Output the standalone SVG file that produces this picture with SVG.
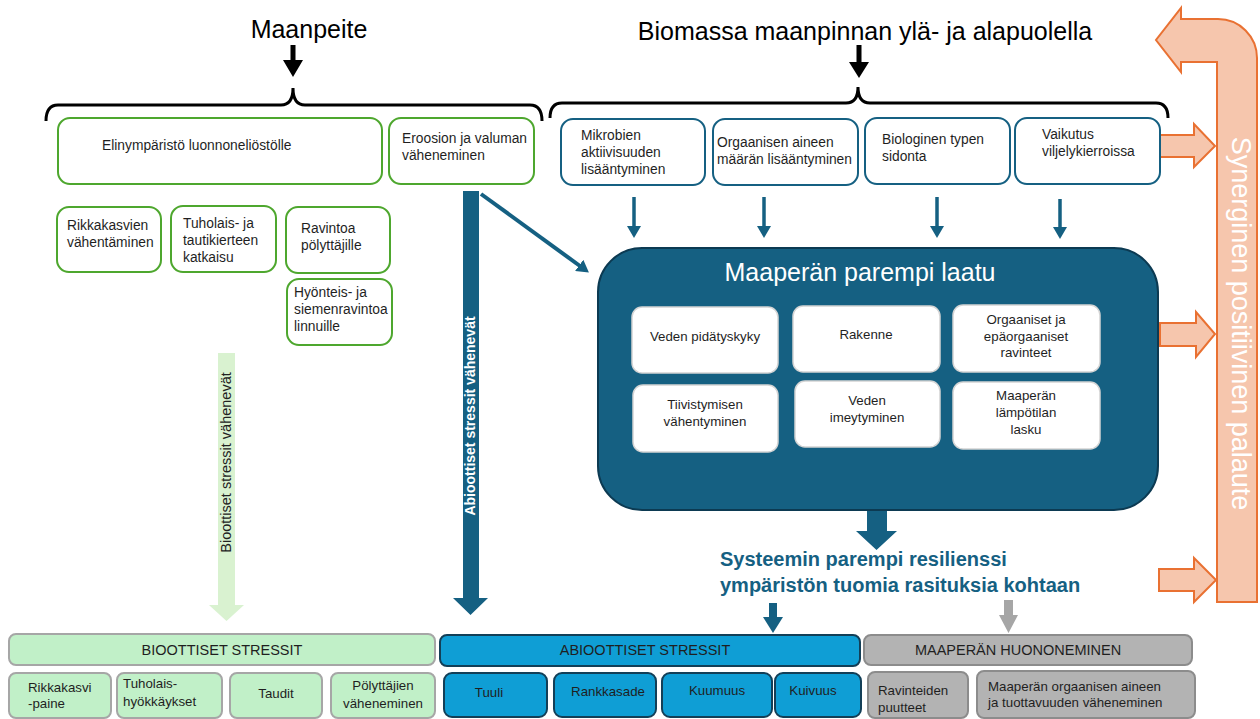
<svg xmlns="http://www.w3.org/2000/svg" width="1260" height="719" viewBox="0 0 1260 719">
<style>
text{font-family:"Liberation Sans",Arial,sans-serif;fill:#1f1f1f}
.h1{font-size:25px;fill:#000}
.s{font-size:13.8px}
.m{font-size:13.3px}
.ctr{text-anchor:middle}
.gb{fill:#fff;stroke:#4ea72e;stroke-width:2}
.bb{fill:#fff;stroke:#156082;stroke-width:2}
.wb{fill:#fff;stroke:#d4d4d4;stroke-width:1.5}
.lg{fill:#c1f0c8;stroke:#a6a6a6;stroke-width:2}
.ab{fill:#0f9ed5;stroke:#133f57;stroke-width:2}
.gr{fill:#b3b3b3;stroke:#8c8c8c;stroke-width:2}
.or{fill:#f6c6ad;stroke:#e97132;stroke-width:2}
.teal{fill:#156082}
.tl{stroke:#156082;fill:none}
.br{fill:none;stroke:#000;stroke-width:3}
</style>
<defs>
<marker id="ah" markerUnits="userSpaceOnUse" markerWidth="12" markerHeight="14" refX="1" refY="7" orient="auto" viewBox="0 0 12 14">
<path d="M0,0 L12,7 L0,14 z" fill="#156082"/>
</marker>
</defs>
<rect width="1260" height="719" fill="#fff"/>

<!-- headers -->
<g id="maanpeite">
<text class="h1 ctr" x="309" y="38">Maanpeite</text>
</g>
<g id="biomassa">
<text class="h1 ctr" x="865" y="40">Biomassa maanpinnan ylä- ja alapuolella</text>
</g>

<!-- feedback arrow -->
<g id="palaute">
<path class="or" d="M1217,602 L1217,62 L1181,62 L1181,72 L1156,40 L1181,8 L1181,19 L1218,19 A39,39 0 0 1 1257,58 L1257,602 Z"/>
<text transform="translate(1232,323.5) rotate(90)" class="ctr" style="font-size:27px;fill:#fff">Synerginen positiivinen palaute</text>
</g>

<g id="connectors">
<!-- brackets -->
<path class="br" d="M46,121 Q46,105 58,105 L281,105 Q293,105 293,88 Q293,105 305,105 L530,105 Q542,105 542,121"/>
<path class="br" d="M550,118 Q550,103 562,103 L846,103 Q858,103 858,87 Q858,103 870,103 L1156,103 Q1168,103 1168,118"/>
<!-- black arrows -->
<polygon points="290.5,45 295.5,45 295.5,60 303,60 293,77 283,60 290.5,60" fill="#000"/>
<polygon points="856.5,45 861.5,45 861.5,62 869,62 859,78 849,62 856.5,62" fill="#000"/>
<!-- small teal arrows -->
<line class="tl" x1="634" y1="197" x2="634" y2="227" stroke-width="3.5" marker-end="url(#ah)"/>
<line class="tl" x1="764" y1="197" x2="764" y2="227" stroke-width="3.5" marker-end="url(#ah)"/>
<line class="tl" x1="937" y1="197" x2="937" y2="227" stroke-width="3.5" marker-end="url(#ah)"/>
<line class="tl" x1="1060" y1="199" x2="1060" y2="228" stroke-width="3.5" marker-end="url(#ah)"/>
<!-- diagonal -->
<line class="tl" x1="481" y1="194" x2="580" y2="266" stroke-width="4" marker-end="url(#ah)"/>
<!-- abiotic big arrow -->
<polygon class="teal" points="463,191 479,191 479,598 488,598 470.5,615 453,598 463,598"/>
<text transform="translate(475,416) rotate(-90)" class="ctr" style="font-size:14px;font-weight:bold;fill:#fff">Abioottiset stressit vähenevät</text>
<!-- biotic arrow -->
<polygon points="218,353 235,353 235,605 244,605 226.5,621 209,605 218,605" fill="#d9f2d0"/>
<text transform="translate(231,462.5) rotate(-90)" class="ctr" style="font-size:14.5px;fill:#222">Bioottiset stressit vähenevät</text>
<!-- big box down arrow -->
<polygon class="teal" points="867,510 887,510 887,531 897,531 876.5,550 856,531 867,531"/>
<!-- to abiotic / gray -->
<polygon class="teal" points="769,603 777,603 777,617 783,617 773,633 763,617 769,617"/>
<polygon points="1004,600 1013,600 1013,615 1018,615 1008.5,633 999,615 1004,615" fill="#a6a6a6"/>
<!-- orange small arrows -->
<polygon class="or" points="1160,135 1194,135 1194,124 1215,146 1194,167 1194,157 1160,157"/>
<polygon class="or" points="1160,323 1196,323 1196,312 1215,334 1196,357 1196,346 1160,346"/>
<polygon class="or" points="1159,569 1194,569 1194,558 1216,580 1194,602 1194,591 1159,591"/>
</g>

<!-- green top boxes -->
<g id="elinymparisto"><rect class="gb" x="58" y="118" width="324" height="66" rx="12"/><text class="s" x="102" y="150">Elinympäristö luonnoneliöstölle</text></g>
<g id="eroosio"><rect class="gb" x="389" y="118" width="145" height="66" rx="12"/><text class="s" x="402" y="143">Eroosion ja valuman</text><text class="s" x="402" y="160">väheneminen</text></g>
<g id="rikkakasvien"><rect class="gb" x="57" y="207" width="104" height="65" rx="12"/><text class="s" x="67" y="230">Rikkakasvien</text><text class="s" x="67" y="247">vähentäminen</text></g>
<g id="tuholais"><rect class="gb" x="171" y="206" width="105" height="66" rx="12"/><text class="s" x="183" y="228">Tuholais- ja</text><text class="s" x="183" y="245">tautikierteen</text><text class="s" x="183" y="262">katkaisu</text></g>
<g id="ravintoa"><rect class="gb" x="286" y="207" width="104" height="66" rx="12"/><text class="s" x="301" y="233">Ravintoa</text><text class="s" x="301" y="250">pölyttäjille</text></g>
<g id="hyonteis"><rect class="gb" x="287" y="279" width="105" height="66" rx="12"/><text class="s" x="294" y="297">Hyönteis- ja</text><text class="s" x="294" y="314">siemenravintoa</text><text class="s" x="294" y="331">linnuille</text></g>

<!-- blue top boxes -->
<g id="mikrobien"><rect class="bb" x="561" y="119" width="144" height="66" rx="12"/><text class="s" x="581" y="140">Mikrobien</text><text class="s" x="581" y="157">aktiivisuuden</text><text class="s" x="581" y="174">lisääntyminen</text></g>
<g id="orgaanisen"><rect class="bb" x="713" y="119" width="145" height="66" rx="12"/><text class="s" x="717" y="147">Orgaanisen aineen</text><text class="s" x="717" y="164">määrän lisääntyminen</text></g>
<g id="typen"><rect class="bb" x="865" y="118" width="145" height="66" rx="12"/><text class="s" x="882" y="144">Biologinen typen</text><text class="s" x="882" y="161">sidonta</text></g>
<g id="vaikutus"><rect class="bb" x="1015" y="118" width="145" height="66" rx="12"/><text class="s" x="1042" y="139">Vaikutus</text><text class="s" x="1042" y="156">viljelykierroissa</text></g>

<!-- big soil quality box -->
<g id="maaperan-laatu">
<rect x="598" y="248" width="560" height="262" rx="44" fill="#156082" stroke="#0c3a52" stroke-width="2"/>
<text class="ctr" x="860" y="281" style="font-size:25px;fill:#fff">Maaperän parempi laatu</text>
</g>
<g id="pidatyskyky"><rect class="wb" x="632" y="307" width="146" height="66" rx="10"/><text class="m ctr" x="705" y="341">Veden pidätyskyky</text></g>
<g id="rakenne"><rect class="wb" x="793" y="306" width="147" height="66" rx="10"/><text class="m ctr" x="866" y="339">Rakenne</text></g>
<g id="ravinteet"><rect class="wb" x="953" y="305" width="147" height="67" rx="10"/><text class="m ctr" x="1026" y="324">Orgaaniset ja</text><text class="m ctr" x="1026" y="341">epäorgaaniset</text><text class="m ctr" x="1026" y="357">ravinteet</text></g>
<g id="tiivistymisen"><rect class="wb" x="633" y="385" width="145" height="67" rx="10"/><text class="m ctr" x="705" y="409">Tiivistymisen</text><text class="m ctr" x="705" y="426">vähentyminen</text></g>
<g id="imeytyminen"><rect class="wb" x="795" y="381" width="145" height="66" rx="10"/><text class="m ctr" x="867" y="405">Veden</text><text class="m ctr" x="867" y="422">imeytyminen</text></g>
<g id="lampotila"><rect class="wb" x="953" y="382" width="147" height="67" rx="10"/><text class="m ctr" x="1026" y="400">Maaperän</text><text class="m ctr" x="1026" y="417">lämpötilan</text><text class="m ctr" x="1026" y="434">lasku</text></g>

<!-- resilience text -->
<g id="resilienssi">
<text x="720" y="566" style="font-size:20px;font-weight:bold;fill:#156082">Systeemin parempi resilienssi</text>
<text x="720" y="592" style="font-size:20px;font-weight:bold;fill:#156082">ympäristön tuomia rasituksia kohtaan</text>
</g>

<!-- bottom: biotic -->
<g id="bioottiset"><rect class="lg" x="9" y="634" width="426" height="31" rx="7"/><text class="ctr" x="222" y="655" style="font-size:14.5px">BIOOTTISET STRESSIT</text></g>
<g id="rikkakasvipaine"><rect class="lg" x="9" y="673" width="102" height="45" rx="7"/><text class="m" x="28" y="692">Rikkakasvi</text><text class="m" x="28" y="708">-paine</text></g>
<g id="tuholaishyokkaykset"><rect class="lg" x="117" y="673" width="105" height="45" rx="7"/><text class="m" x="123" y="688">Tuholais-</text><text class="m" x="123" y="706">hyökkäykset</text></g>
<g id="taudit"><rect class="lg" x="230" y="673" width="92" height="45" rx="7"/><text class="m ctr" x="276" y="698">Taudit</text></g>
<g id="polyttajien"><rect class="lg" x="331" y="673" width="104" height="45" rx="7"/><text class="m ctr" x="383" y="690">Pölyttäjien</text><text class="m ctr" x="383" y="708">väheneminen</text></g>

<!-- bottom: abiotic -->
<g id="abioottiset"><rect class="ab" x="440" y="635" width="420" height="31" rx="7"/><text class="ctr" x="645" y="655" style="font-size:14.5px">ABIOOTTISET STRESSIT</text></g>
<g id="tuuli"><rect class="ab" x="444" y="673" width="103" height="44" rx="8"/><text class="m ctr" x="489" y="697">Tuuli</text></g>
<g id="rankkasade"><rect class="ab" x="554" y="673" width="102" height="44" rx="8"/><text class="m ctr" x="608" y="696">Rankkasade</text></g>
<g id="kuumuus"><rect class="ab" x="662" y="673" width="110" height="44" rx="8"/><text class="m ctr" x="717" y="695">Kuumuus</text></g>
<g id="kuivuus"><rect class="ab" x="775" y="673" width="86" height="44" rx="8"/><text class="m ctr" x="813" y="695">Kuivuus</text></g>

<!-- bottom: soil degradation -->
<g id="huononeminen"><rect class="gr" x="864" y="635" width="328" height="30" rx="7"/><text class="ctr" x="1018" y="655" style="font-size:14.5px">MAAPERÄN HUONONEMINEN</text></g>
<g id="ravinteiden"><rect class="gr" x="868" y="672" width="100" height="46" rx="7"/><text class="m" x="878" y="695">Ravinteiden</text><text class="m" x="878" y="712">puutteet</text></g>
<g id="orgaaninen-vaheneminen"><rect class="gr" x="977" y="671" width="218" height="47" rx="7"/><text class="m" x="988" y="691">Maaperän orgaanisen aineen</text><text class="m" x="988" y="707">ja tuottavuuden väheneminen</text></g>
</svg>
